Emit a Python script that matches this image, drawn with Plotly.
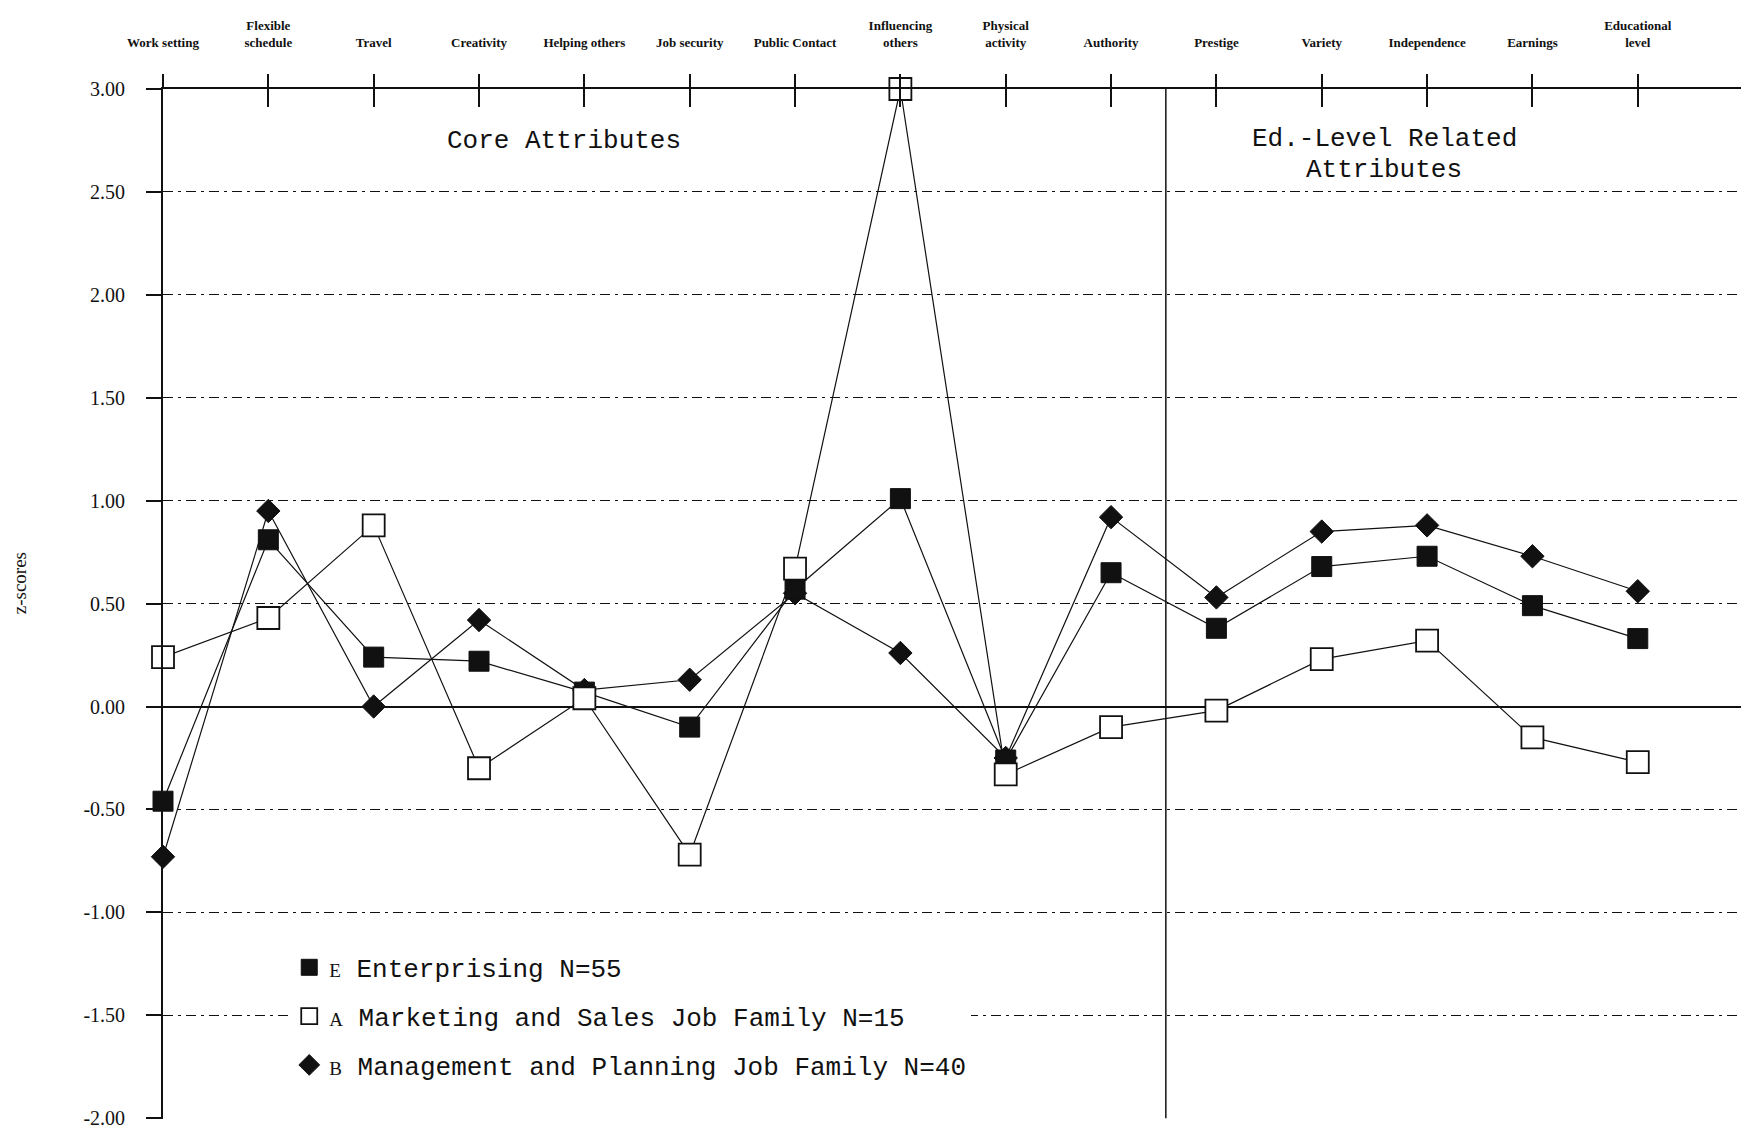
import plotly.graph_objects as go

categories = ["Work setting", "Flexible<br>schedule", "Travel", "Creativity", "Helping others",
              "Job security", "Public Contact", "Influencing<br>others", "Physical<br>activity",
              "Authority", "Prestige", "Variety", "Independence", "Earnings", "Educational<br>level"]

enterprising = [-0.46, 0.81, 0.24, 0.22, 0.07, -0.10, 0.57, 1.01, -0.26, 0.65, 0.38, 0.68, 0.73, 0.49, 0.33]
marketing = [0.24, 0.43, 0.88, -0.30, 0.04, -0.72, 0.67, 3.00, -0.33, -0.10, -0.02, 0.23, 0.32, -0.15, -0.27]
management = [-0.73, 0.95, 0.00, 0.42, 0.08, 0.13, 0.55, 0.26, -0.25, 0.92, 0.53, 0.85, 0.88, 0.73, 0.56]

names = ["Enterprising N=55", "Marketing and Sales Job Family N=15", "Management and Planning Job Family N=40"]
letters = ["E", "A", "B"]
y_ticks = [3.0, 2.5, 2.0, 1.5, 1.0, 0.5, 0.0, -0.5, -1.0, -1.5, -2.0]
y_tick_labels = ["3.00", "2.50", "2.00", "1.50", "1.00", "0.50", "0.00", "-0.50", "-1.00", "-1.50", "-2.00"]

xs = list(range(len(categories)))
divider_x = 9.52

fig = go.Figure()

line_style = dict(color="#111111", width=1.2)
m_ent = dict(symbol="square", size=20, color="#111111", line=dict(color="#111111", width=1))
m_mkt = dict(symbol="square", size=22, color="white", line=dict(color="#111111", width=1.8))
m_mgt = dict(symbol="diamond", size=18, color="#111111", line=dict(color="#111111", width=1))

fig.add_trace(go.Scatter(x=xs, y=management, mode="lines+markers", line=line_style, marker=m_mgt,
                         showlegend=False, cliponaxis=False))
fig.add_trace(go.Scatter(x=xs, y=enterprising, mode="lines+markers", line=line_style, marker=m_ent,
                         showlegend=False, cliponaxis=False))
fig.add_trace(go.Scatter(x=xs, y=marketing, mode="lines+markers", line=line_style, marker=m_mkt,
                         showlegend=False, cliponaxis=False))
# empty trace so the overlaid top axis (inner tick marks) is drawn
fig.add_trace(go.Scatter(x=[None], y=[None], xaxis="x2", yaxis="y", showlegend=False, hoverinfo="skip"))

for nm, lt, mk, grp in zip(names, letters, [m_ent, m_mkt, m_mgt], ["g1", "g2", "g3"]):
    fig.add_trace(go.Scatter(x=[None], y=[None], mode="markers", marker=mk, legendgroup=grp,
                             name="<span style='font-family:Liberation Serif;font-size:19px'>" + lt + "</span> " + nm))

fig.add_shape(type="line", x0=divider_x, x1=divider_x, y0=-2, y1=3, xref="x", yref="y",
              line=dict(color="#111111", width=1.5))

mono = "Liberation Mono"
fig.add_annotation(text="Core Attributes", xref="paper", yref="paper", x=0.254, y=0.9495,
                   xanchor="center", yanchor="middle", showarrow=False,
                   font=dict(family=mono, size=26, color="#111111"))
fig.add_annotation(text="Ed.-Level Related", xref="paper", yref="paper", x=0.774, y=0.951,
                   xanchor="center", yanchor="middle", showarrow=False,
                   font=dict(family=mono, size=26, color="#111111"))
fig.add_annotation(text="Attributes", xref="paper", yref="paper", x=0.774, y=0.921,
                   xanchor="center", yanchor="middle", showarrow=False,
                   font=dict(family=mono, size=26, color="#111111"))
fig.add_annotation(text="z-scores", xref="paper", yref="paper", x=-0.0907, y=0.52, textangle=-90,
                   xanchor="center", yanchor="middle", showarrow=False,
                   font=dict(family="Liberation Serif", size=19, color="#111111"))

fig.update_layout(
    width=1741, height=1130,
    margin=dict(l=163, r=0, t=89, b=11),
    paper_bgcolor="white", plot_bgcolor="white",
    xaxis=dict(range=[0, 14.98], tickvals=xs, ticktext=categories, side="top", showgrid=False,
               showline=True, linecolor="#111111", linewidth=2, ticks="outside", ticklen=13,
               tickwidth=1.5, tickcolor="#111111", ticklabelstandoff=22, zeroline=False,
               tickfont=dict(family="Liberation Serif", size=13, color="#111111", weight="bold")),
    xaxis2=dict(range=[0, 14.98], tickvals=xs, overlaying="x", side="top", anchor="y", showgrid=False,
                showticklabels=False, ticks="inside", ticklen=18, tickwidth=1.5, tickcolor="#111111",
                showline=False, zeroline=False),
    yaxis=dict(range=[-2.004, 3.0], tickvals=y_ticks, ticktext=y_tick_labels, showline=True,
               linecolor="#111111", linewidth=1.8, ticks="outside", ticklen=15, tickwidth=1.5,
               tickcolor="#111111", ticklabelstandoff=17, showgrid=True, gridcolor="#111111", gridwidth=1.3,
               griddash="10px,5px,3px,5px", zeroline=True, zerolinecolor="#111111", zerolinewidth=2,
               tickfont=dict(family="Liberation Serif", size=20, color="#111111")),
    legend=dict(x=0.080, y=0.17, xanchor="left", yanchor="top", bgcolor="white", tracegroupgap=12,
                font=dict(family=mono, size=26, color="#111111")),
)

fig.write_html("out.html", config={"displayModeBar": False},
               post_script="document.body.style.margin='0';document.body.style.overflow='hidden';")
